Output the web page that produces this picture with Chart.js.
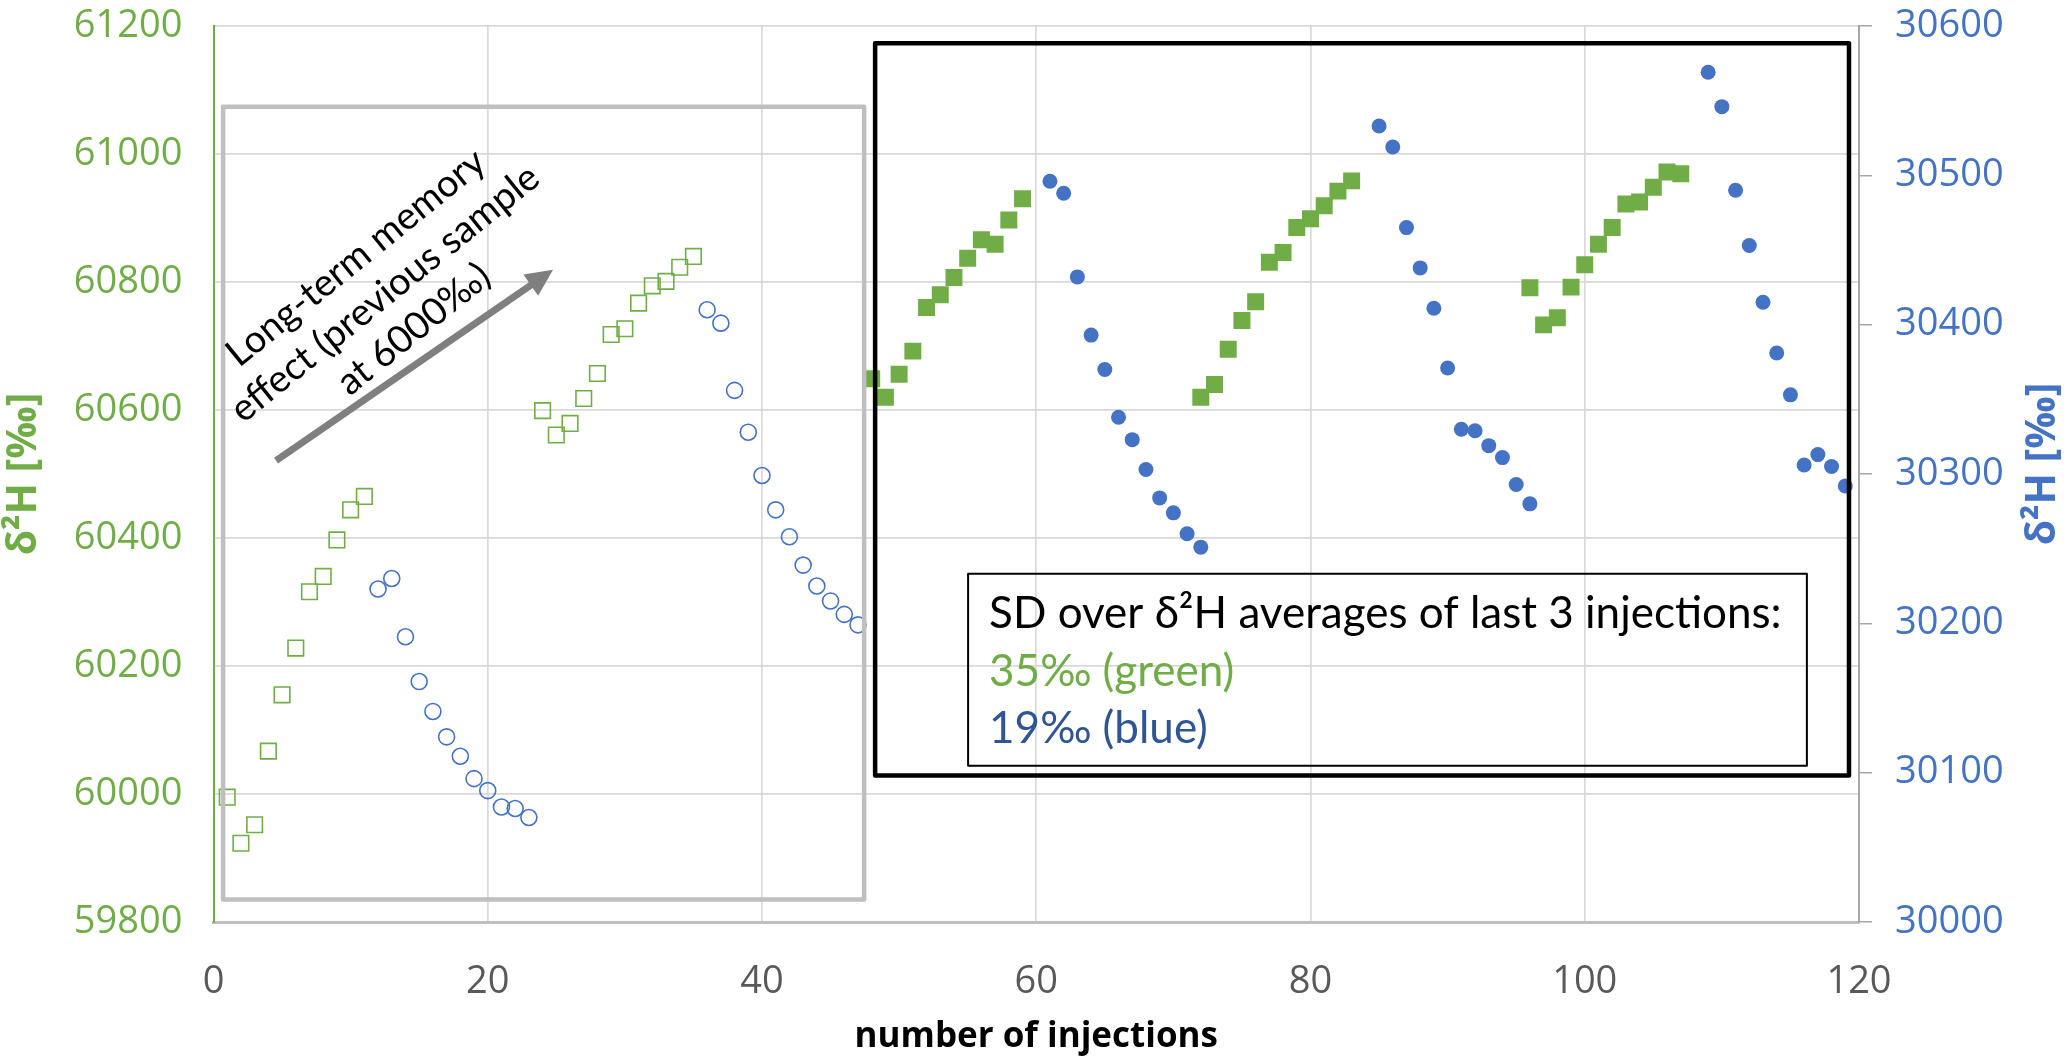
<!DOCTYPE html>
<html>
<head>
<meta charset="utf-8">
<script src="https://cdn.jsdelivr.net/npm/chart.js@4.4.1/dist/chart.umd.min.js"></script>
<style>
html,body{margin:0;padding:0;background:#ffffff;}
#wrap{width:2067px;height:1058px;}
</style>
</head>
<body>
<div id="wrap"><canvas id="c" width="2067" height="1058"></canvas></div>
<script>
// ---------- data ----------
const xTicks = [0, 20, 40, 60, 80, 100, 120];
const leftTicks = [59800, 60000, 60200, 60400, 60600, 60800, 61000, 61200];
const rightTicks = [30000, 30100, 30200, 30300, 30400, 30500, 30600];

const greenOpenX = [1,2,3,4,5,6,7,8,9,10,11, 24,25,26,27,28,29,30,31,32,33,34,35];
const greenOpenY = [59995,59923,59952,60067,60155,60228,60316,60340,60397,60444,60465,
                    60599,60561,60579,60618,60657,60718,60727,60767,60794,60801,60823,60840];

const blueOpenX = [12,13,14,15,16,17,18,19,20,21,22,23, 36,37,38,39,40,41,42,43,44,45,46,47];
const blueOpenY = [30223,30230,30191,30161,30141,30124,30111,30096,30088,30077,30076,30070,
                   30410,30401,30356,30328,30299,30276,30258,30239,30225,30215,30206,30199];

const greenFilledX = [48,49,50,51,52,53,54,55,56,57,58,59,
                      72,73,74,75,76,77,78,79,80,81,82,83,
                      96,97,98,99,100,101,102,103,104,105,106,107];
const greenFilledY = [60649,60620,60656,60692,60760,60780,60807,60837,60866,60859,60897,60930,
                      60620,60640,60695,60740,60769,60831,60846,60885,60899,60919,60942,60958,
                      60791,60733,60744,60792,60827,60859,60885,60922,60925,60948,60972,60969];

const blueFilledX = [61,62,63,64,65,66,67,68,69,70,71,72,
                     85,86,87,88,89,90,91,92,93,94,95,96,
                     109,110,111,112,113,114,115,116,117,118,119];
const blueFilledY = [30496,30488,30432,30393,30370,30338,30323,30303,30284,30274,30260,30251,
                     30533,30519,30465,30438,30411,30371,30330,30329,30319,30311,30293,30280,
                     30569,30546,30490,30453,30415,30381,30353,30306,30313,30305,30292];

const xTitle = 'number of injections';
const yTitle = 'δ²H [‰]';
const noteLines = ['Long-term memory', 'effect (previous sample', 'at 6000‰)'];
const boxLines = ['SD over δ²H averages of last 3 injections:', '35‰ (green)', '19‰ (blue)'];

// ---------- styles ----------
const GREEN = '#70AD47';
const BLUE = '#4472C4';
const DARKBLUE = '#2F5597';
const GRID = '#D9D9D9';

const zip = (xs, ys) => xs.map((x, i) => ({x: x, y: ys[i]}));
const tickFont = {family: '"Open Sans", "DejaVu Sans", sans-serif', size: 38};

// annotation boxes in data units (x, left-axis y)
const greyBox = {x1: 0.7, x2: 47.45, y1: 61074, y2: 59835};
const blackBox = {x1: 48.25, x2: 119.27, y1: 61173, y2: 60029};
const textBox = {x1: 55.03, x2: 116.2, y1: 60344, y2: 60044};
const arrow = {x1: 4.56, y1: 60521, x2: 24.76, y2: 60819};
const noteAnchor = {x: 12.5, y: 60782};

const annotations = {
  id: 'annotations',
  afterDatasetsDraw(chart) {
    const ctx = chart.ctx;
    const sx = chart.scales.x, sy = chart.scales.y;
    const px = v => sx.getPixelForValue(v);
    const py = v => sy.getPixelForValue(v);
    ctx.save();
    // grey box
    ctx.strokeStyle = '#BFBFBF';
    ctx.lineWidth = 4.5;
    ctx.lineJoin = 'round';
    ctx.strokeRect(px(greyBox.x1), py(greyBox.y1), px(greyBox.x2) - px(greyBox.x1), py(greyBox.y2) - py(greyBox.y1));
    // black box
    ctx.strokeStyle = '#000000';
    ctx.lineWidth = 4.5;
    ctx.strokeRect(px(blackBox.x1), py(blackBox.y1), px(blackBox.x2) - px(blackBox.x1), py(blackBox.y2) - py(blackBox.y1));
    // text box
    const tl = px(textBox.x1), tt = py(textBox.y1);
    ctx.lineWidth = 2;
    ctx.strokeRect(tl, tt, px(textBox.x2) - tl, py(textBox.y2) - tt);
    ctx.font = '44px Lato, "Open Sans", sans-serif';
    ctx.textAlign = 'left';
    ctx.textBaseline = 'alphabetic';
    ctx.fillStyle = '#000000';
    ctx.fillText(boxLines[0], tl + 21, tt + 54);
    ctx.fillStyle = GREEN;
    ctx.fillText(boxLines[1], tl + 21, tt + 112);
    ctx.fillStyle = DARKBLUE;
    ctx.fillText(boxLines[2], tl + 21, tt + 169);

    // arrow
    const ax1 = px(arrow.x1), ay1 = py(arrow.y1), ax2 = px(arrow.x2), ay2 = py(arrow.y2);
    const ang = Math.atan2(ay2 - ay1, ax2 - ax1);
    const headL = 27, headW = 13;
    ctx.strokeStyle = '#7F7F7F';
    ctx.fillStyle = '#7F7F7F';
    ctx.lineWidth = 7;
    ctx.lineCap = 'butt';
    ctx.beginPath();
    ctx.moveTo(ax1, ay1);
    ctx.lineTo(ax2 - headL * Math.cos(ang) * 0.8, ay2 - headL * Math.sin(ang) * 0.8);
    ctx.stroke();
    ctx.beginPath();
    ctx.moveTo(ax2, ay2);
    const bx = ax2 - headL * Math.cos(ang), by = ay2 - headL * Math.sin(ang);
    ctx.lineTo(bx + headW * Math.sin(ang), by - headW * Math.cos(ang));
    ctx.lineTo(bx - headW * Math.sin(ang), by + headW * Math.cos(ang));
    ctx.closePath();
    ctx.fill();

    // rotated note
    ctx.save();
    ctx.translate(px(noteAnchor.x), py(noteAnchor.y));
    ctx.rotate(-39 * Math.PI / 180);
    ctx.font = '38px Lato, "Open Sans", sans-serif';
    ctx.fillStyle = '#000000';
    ctx.textAlign = 'center';
    ctx.textBaseline = 'middle';
    ctx.fillText(noteLines[0], 0, -46);
    ctx.fillText(noteLines[1], 0, 0);
    ctx.fillText(noteLines[2], 0, 46);
    ctx.restore();

    // right axis title (reads bottom-to-top)
    ctx.save();
    ctx.translate(2043, (chart.chartArea.top + chart.chartArea.bottom) / 2 - 10);
    ctx.rotate(-Math.PI / 2);
    ctx.font = 'bold 41px "Open Sans", sans-serif';
    ctx.fillStyle = BLUE;
    ctx.textAlign = 'center';
    ctx.textBaseline = 'middle';
    ctx.fillText(yTitle, 0, 0);
    ctx.restore();

    ctx.restore();
  }
};

new Chart(document.getElementById('c'), {
  type: 'scatter',
  data: {
    datasets: [
      {label: 'green open', data: zip(greenOpenX, greenOpenY), yAxisID: 'y',
       pointStyle: 'rect', pointRadius: 11, borderWidth: 1.6, borderColor: GREEN, backgroundColor: 'rgba(0,0,0,0)'},
      {label: 'blue open', data: zip(blueOpenX, blueOpenY), yAxisID: 'y2',
       pointStyle: 'circle', pointRadius: 8, borderWidth: 1.6, borderColor: BLUE, backgroundColor: 'rgba(0,0,0,0)'},
      {label: 'green filled', data: zip(greenFilledX, greenFilledY), yAxisID: 'y',
       pointStyle: 'rect', pointRadius: 12, borderWidth: 0, borderColor: GREEN, backgroundColor: GREEN},
      {label: 'blue filled', data: zip(blueFilledX, blueFilledY), yAxisID: 'y2',
       pointStyle: 'circle', pointRadius: 7.5, borderWidth: 0, borderColor: BLUE, backgroundColor: BLUE}
    ]
  },
  options: {
    responsive: false,
    animation: false,
    events: [],
    layout: {padding: {top: 26, left: 0, right: 0, bottom: 0}},
    plugins: {legend: {display: false}, tooltip: {enabled: false}, title: {display: false}},
    scales: {
      x: {
        type: 'linear', position: 'bottom',
        min: xTicks[0], max: xTicks[xTicks.length - 1],
        afterBuildTicks: s => { s.ticks = xTicks.map(v => ({value: v})); },
        afterFit: s => { s.height = 136; s.paddingLeft = 0; s.paddingRight = 0; },
        grid: {color: GRID, lineWidth: 1.7, drawTicks: false},
        border: {color: '#BFBFBF', width: 3},
        ticks: {font: tickFont, color: '#595959', padding: 37, callback: v => String(v), maxRotation: 0},
        title: {display: true, text: xTitle, color: '#000000',
                font: {family: '"Open Sans", sans-serif', size: 35, weight: 'bold'}, padding: {top: 0, bottom: 0}}
      },
      y: {
        type: 'linear', position: 'left',
        min: leftTicks[0], max: leftTicks[leftTicks.length - 1],
        afterBuildTicks: s => { s.ticks = leftTicks.map(v => ({value: v})); },
        afterFit: s => { s.width = 213.5; s.paddingTop = 0; s.paddingBottom = 0; },
        grid: {color: GRID, lineWidth: 1.7, drawTicks: false},
        border: {color: GREEN, width: 2},
        ticks: {font: tickFont, color: GREEN, padding: 31, callback: v => String(v)},
        title: {display: true, text: yTitle, color: GREEN,
                font: {family: '"Open Sans", sans-serif', size: 41, weight: 'bold'}, padding: {top: 0, bottom: 0}}
      },
      y2: {
        type: 'linear', position: 'right',
        min: rightTicks[0], max: rightTicks[rightTicks.length - 1],
        afterBuildTicks: s => { s.ticks = rightTicks.map(v => ({value: v})); },
        afterFit: s => { s.width = 208; s.paddingTop = 0; s.paddingBottom = 0; },
        grid: {drawOnChartArea: false, drawTicks: true, tickLength: 13, color: '#A6A6A6', lineWidth: 1.5},
        border: {color: '#A6A6A6', width: 2},
        ticks: {font: tickFont, color: BLUE, padding: 23, callback: v => String(v)}
      }
    }
  },
  plugins: [annotations]
});
</script>
</body>
</html>
